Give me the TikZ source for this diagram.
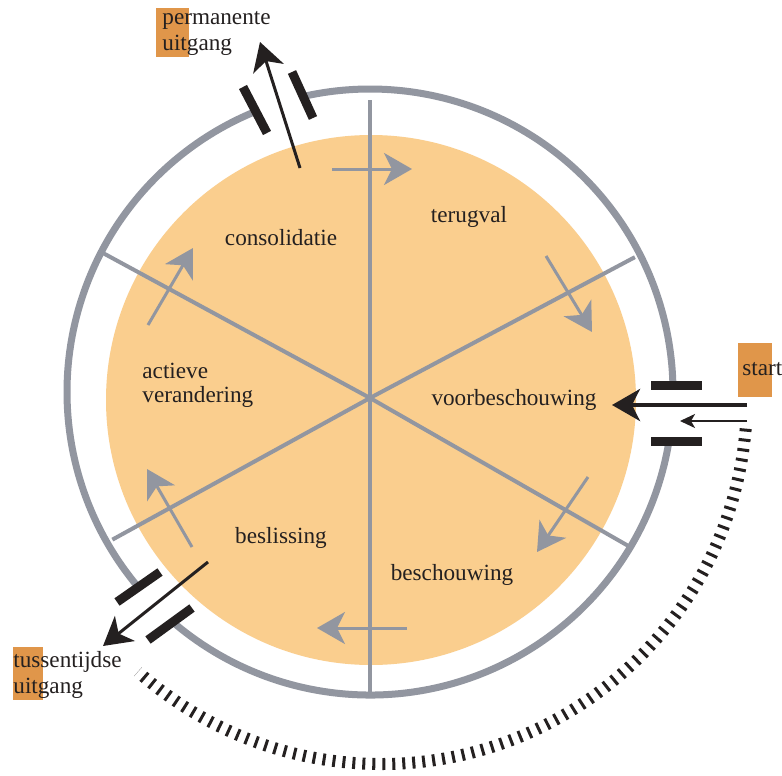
\documentclass[tikz,border=0pt]{standalone}
\usepackage{fontspec}
\setmainfont{Liberation Serif}
\usetikzlibrary{arrows.meta}
\definecolor{diskorange}{RGB}{250,206,142}
\definecolor{tagorange}{RGB}{224,150,74}
\definecolor{spokegray}{RGB}{146,150,160}
\definecolor{inkdark}{RGB}{36,32,32}

\begin{document}
\begin{tikzpicture}[x=0.5pt, y=-0.5pt,
  flow/.style={draw=spokegray, line width=1.5pt, -{Stealth[length=14pt, width=16pt, inset=4pt]}},
  exit/.style={draw=inkdark, line width=1.5pt, -{Stealth[length=14pt, width=16pt, inset=4pt]}},
  doorbar/.style={draw=inkdark, line width=4.5pt},
  ringline/.style={draw=spokegray, line width=3.5pt},
  spoke/.style={draw=spokegray, line width=2pt},
  lbl/.style={font=\fontsize{11.6}{13}\selectfont, text=inkdark, inner sep=0pt},
  tag/.style={fill=tagorange}]
  \useasboundingbox (0,0) rectangle (782,776);
  \fill[white] (0,0) rectangle (782,776);
  % disk and spokes
  \fill[diskorange] (371,400) circle (265);
  \coordinate (hub) at (370,398);
  \draw[spoke] (hub) -- ++(-28:300);
  \draw[spoke] (hub) -- ++(29.8:300);
  \draw[spoke] (hub) -- ++(151.2:294);
  \draw[spoke] (hub) -- ++(208.5:304);
  \draw[spoke] (hub) -- ++(-90:298);
  \draw[spoke] (hub) -- ++(90:294);
  % ---------------- outer ring with three doors ----------------
  \begin{scope}[shift={(370,392)}]
    \draw[ringline] (9.3:303) arc[start angle=9.3, end angle=130.8, radius=303];
    \draw[ringline] (140:303) arc[start angle=140, end angle=247.8, radius=303];
    \draw[ringline] (257.1:303) arc[start angle=257.1, end angle=358.7, radius=303];
  \end{scope}
  \draw[doorbar] (651,385) -- (702,385);
  \draw[doorbar] (651,441) -- (702,441);
  \draw[doorbar] (243,87) -- (267,133);
  \draw[doorbar] (292,72) -- (313,118);
  \draw[doorbar] (117,602) -- (160,572);
  \draw[doorbar] (148,640) -- (192,608);
  % ticked arc outside
  \draw[inkdark, line width=6pt, dash pattern=on 1.5pt off 3.5pt]
    (381,398) ++(4.8:366) arc[start angle=4.8, end angle=131.6, radius=366];
  % ---------------- stage labels ----------------
  \node[lbl, anchor=base] (consolidatie) at (281,245) {consolidatie};
  \node[lbl, anchor=base] (terugval) at (469,222) {terugval};
  \node[lbl, anchor=base west] (actieve) at (142,378) {actieve};
  \node[lbl, anchor=base west] (verandering) at (142,402) {verandering};
  \node[lbl, anchor=base] (voorbeschouwing) at (514,405) {voorbeschouwing};
  \node[lbl, anchor=base] (beslissing) at (281,543) {beslissing};
  \node[lbl, anchor=base] (beschouwing) at (452,580) {beschouwing};
  % ---------------- flow arrows ----------------
  \coordinate (f1a) at (332,169); \coordinate (f1b) at (412,169);
  \coordinate (f2a) at (546,256); \coordinate (f2b) at (592,332);
  \coordinate (f3a) at (588,477); \coordinate (f3b) at (537,552);
  \coordinate (f4a) at (407,628); \coordinate (f4b) at (317,628);
  \coordinate (f5a) at (192,547); \coordinate (f5b) at (147,469);
  \coordinate (f6a) at (148,325); \coordinate (f6b) at (193,248);
  \draw[flow] (f1a) -- (f1b);
  \draw[flow] (f2a) -- (f2b);
  \draw[flow] (f3a) -- (f3b);
  \draw[flow] (f4a) -- (f4b);
  \draw[flow] (f5a) -- (f5b);
  \draw[flow] (f6a) -- (f6b);
  % ---------------- entry and exits ----------------
  \coordinate (permFrom) at (300,168); \coordinate (permTo) at (260,42);
  \draw[exit] (permFrom) -- (permTo);
  \coordinate (startFrom) at (747,405); \coordinate (startTo) at (612,405);
  \draw[exit, line width=2pt] (startFrom) -- (startTo);
  \coordinate (backFrom) at (747,421); \coordinate (backTo) at (680,421);
  \draw[draw=inkdark, line width=1pt, -{Stealth[length=7.5pt, width=7pt, inset=2pt]}] (backFrom) -- (backTo);
  \coordinate (tussFrom) at (208,562); \coordinate (tussTo) at (103,646);
  \draw[exit] (tussFrom) -- (tussTo);
  % tags
  \fill[tag] (156,8) rectangle (189,57);
  \fill[tag] (738,343) rectangle (772,397);
  \fill[tag] (13,647) rectangle (43,700);
  \node[lbl, anchor=base west] (permanente) at (162,25) {permanente};
  \node[lbl, anchor=base west] (permUitgang) at (162,50) {uitgang};
  \node[lbl, anchor=base west] (start) at (742,375) {start};
  \node[lbl, anchor=base west] (tussentijdse) at (13,667) {tussentijdse};
  \node[lbl, anchor=base west] (tussUitgang) at (13,693) {uitgang};
\end{tikzpicture}
\end{document}
